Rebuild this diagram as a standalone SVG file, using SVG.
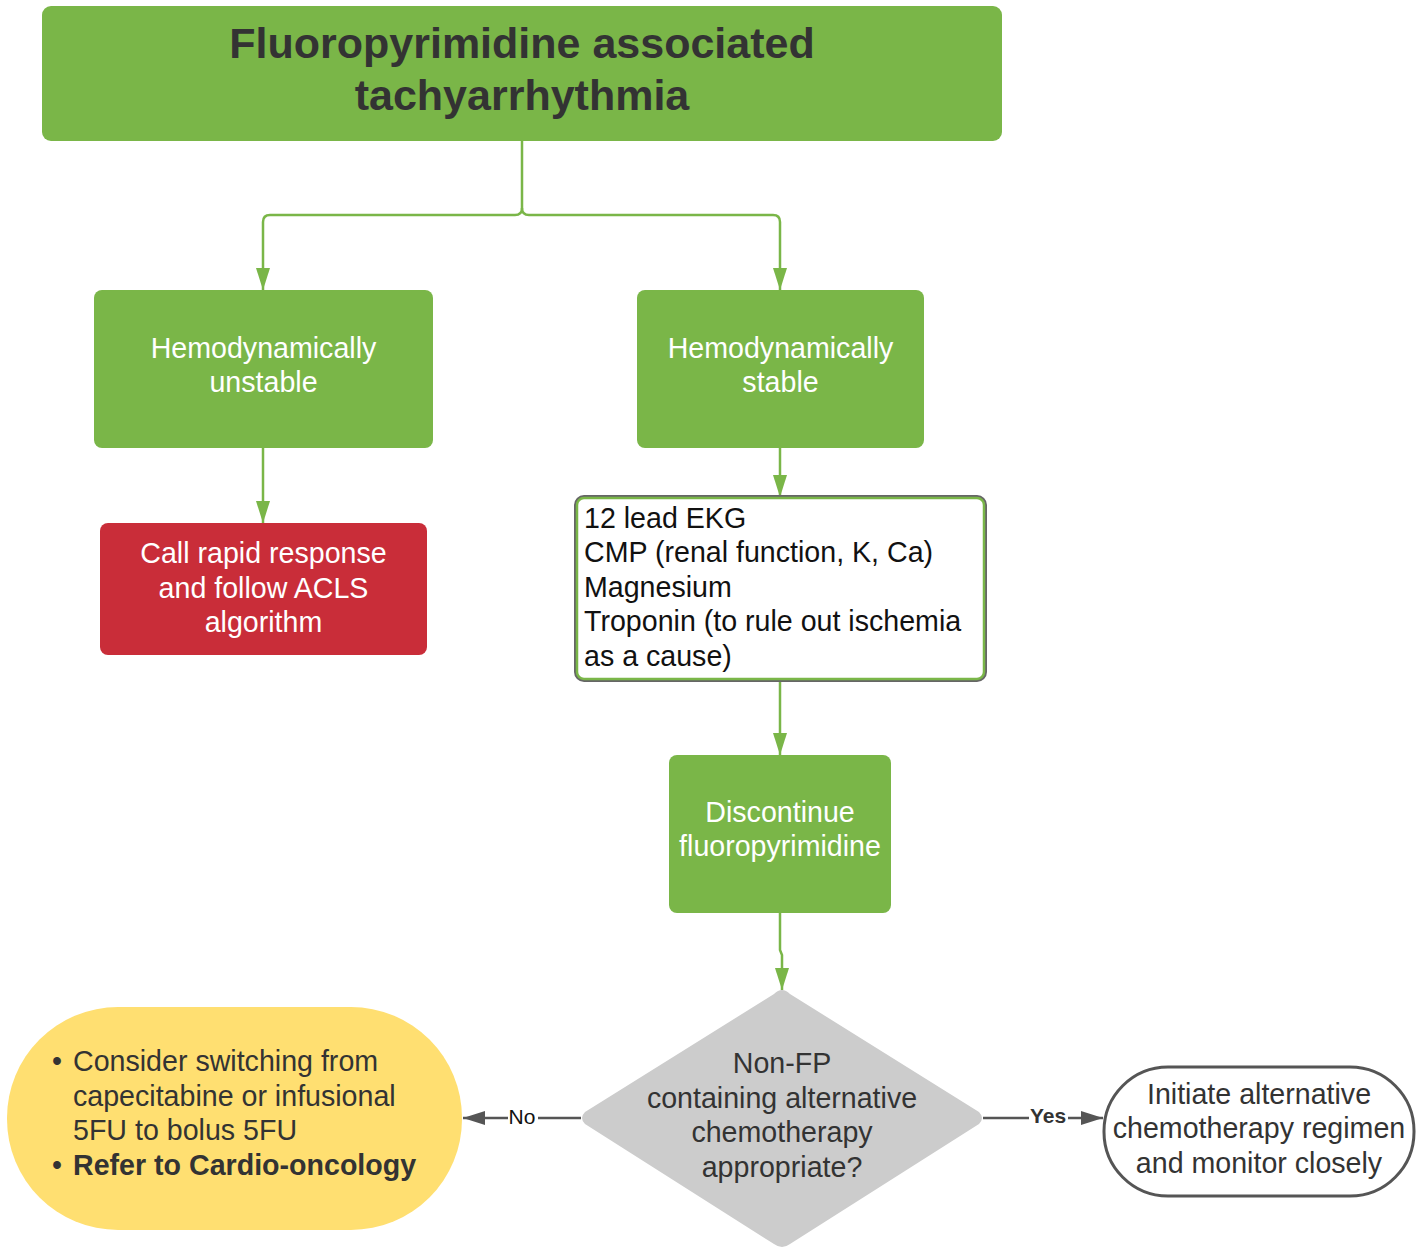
<svg xmlns="http://www.w3.org/2000/svg" width="1428" height="1249" viewBox="0 0 1428 1249">
  <style>
    .t { font-family: "Liberation Sans", Arial, sans-serif; font-size: 28.6px; }
    .c { text-anchor: middle; }
    .w { fill: #ffffff; }
    .d { fill: #333333; }
    .k { fill: #111111; }
    .head { font-size: 43px; font-weight: bold; }
    .lbl { font-size: 21px; }
    .green { fill: #7ab648; }
    .g-line { fill: none; stroke: #7ab648; stroke-width: 2.5; }
    .k-line { fill: none; stroke: #555555; stroke-width: 2.5; }
  </style>
  <defs>
    <marker id="arrow-green" markerUnits="userSpaceOnUse" markerWidth="22" markerHeight="14" refX="22" refY="7" orient="auto">
      <path d="M0,0 L22,7 L0,14 z" fill="#7ab648"/>
    </marker>
    <marker id="arrow-gray" markerUnits="userSpaceOnUse" markerWidth="22" markerHeight="14" refX="22" refY="7" orient="auto">
      <path d="M0,0 L22,7 L0,14 z" fill="#555555"/>
    </marker>
  </defs>

  <rect width="1428" height="1249" fill="#ffffff"/>

  <!-- connectors -->
  <g id="connectors">
    <path class="g-line" d="M522,141 V208 Q522,215 515,215 H270 Q263,215 263,222 V290" marker-end="url(#arrow-green)"/>
    <path class="g-line" d="M522,208 Q522,215 529,215 H773 Q780,215 780,222 V290" marker-end="url(#arrow-green)"/>
    <path class="g-line" d="M263,448 V523" marker-end="url(#arrow-green)"/>
    <path class="g-line" d="M780,448 V497" marker-end="url(#arrow-green)"/>
    <path class="g-line" d="M780,680 V755" marker-end="url(#arrow-green)"/>
    <path class="g-line" d="M780,913 V950 L782,955 V990" marker-end="url(#arrow-green)"/>
    <path class="k-line" d="M581,1118 H538 M508,1118 H463" marker-end="url(#arrow-gray)"/>
    <text class="t lbl" x="522" y="1124" text-anchor="middle" fill="#111111">No</text>
    <path class="k-line" d="M983,1118 H1029 M1068,1118 H1103" marker-end="url(#arrow-gray)"/>
    <text class="t lbl" x="1048" y="1123" font-weight="bold" text-anchor="middle" fill="#333333">Yes</text>
  </g>

  <!-- title -->
  <g id="title">
    <rect x="42" y="6" width="960" height="135" rx="9" class="green"/>
    <text class="t head c d" x="522" y="58">Fluoropyrimidine associated</text>
    <text class="t head c d" x="522" y="110">tachyarrhythmia</text>
  </g>

  <!-- unstable branch -->
  <g id="unstable">
    <rect x="94" y="290" width="339" height="158" rx="8" class="green"/>
    <text class="t c w" x="263.5" y="358">Hemodynamically</text>
    <text class="t c w" x="263.5" y="392">unstable</text>
  </g>

  <g id="acls">
    <rect x="100" y="523" width="327" height="132" rx="8" fill="#c92d39"/>
    <text class="t c w" x="263.5" y="563">Call rapid response</text>
    <text class="t c w" x="263.5" y="598">and follow ACLS</text>
    <text class="t c w" x="263.5" y="632">algorithm</text>
  </g>

  <!-- stable branch -->
  <g id="stable">
    <rect x="637" y="290" width="287" height="158" rx="8" class="green"/>
    <text class="t c w" x="780.5" y="358">Hemodynamically</text>
    <text class="t c w" x="780.5" y="392">stable</text>
  </g>

  <g id="workup">
    <rect x="576" y="497" width="409" height="183" rx="8" fill="#ffffff" stroke="#666666" stroke-width="4"/>
    <rect x="577" y="498" width="407" height="181" rx="7" fill="#ffffff" stroke="#7ab648" stroke-width="2.5"/>
    <text class="t k" x="584" y="528">12 lead EKG</text>
    <text class="t k" x="584" y="562">CMP (renal function, K, Ca)</text>
    <text class="t k" x="584" y="597">Magnesium</text>
    <text class="t k" x="584" y="631">Troponin (to rule out ischemia</text>
    <text class="t k" x="584" y="666">as a cause)</text>
  </g>

  <g id="discontinue">
    <rect x="669" y="755" width="222" height="158" rx="8" class="green"/>
    <text class="t c w" x="780" y="822">Discontinue</text>
    <text class="t c w" x="780" y="856">fluoropyrimidine</text>
  </g>

  <!-- decision -->
  <g id="decision">
    <path d="M782,990 Q786,990 790,994 L979,1112 Q985,1118 979,1124 L790,1244 Q782,1250 774,1244 L585,1124 Q579,1118 585,1112 L774,994 Q778,990 782,990 z" fill="#cccccc"/>
    <text class="t c d" x="782" y="1073">Non-FP</text>
    <text class="t c d" x="782" y="1108">containing alternative</text>
    <text class="t c d" x="782" y="1142">chemotherapy</text>
    <text class="t c d" x="782" y="1177">appropriate?</text>
  </g>

  <!-- outcomes -->
  <g id="no-outcome">
    <rect x="7" y="1007" width="455" height="223" rx="111" fill="#ffdf71"/>
    <text class="t d" x="52" y="1071">•</text>
    <text class="t d" x="73" y="1071">Consider switching from</text>
    <text class="t d" x="73" y="1106">capecitabine or infusional</text>
    <text class="t d" x="73" y="1140">5FU to bolus 5FU</text>
    <text class="t d" x="52" y="1175">•</text>
    <text class="t d" x="73" y="1175" font-weight="bold">Refer to Cardio-oncology</text>
  </g>

  <g id="yes-outcome">
    <rect x="1104" y="1067" width="310" height="129" rx="64" fill="#ffffff" stroke="#555555" stroke-width="3"/>
    <text class="t c d" x="1259" y="1104">Initiate alternative</text>
    <text class="t c d" x="1259" y="1138">chemotherapy regimen</text>
    <text class="t c d" x="1259" y="1173">and monitor closely</text>
  </g>
</svg>
